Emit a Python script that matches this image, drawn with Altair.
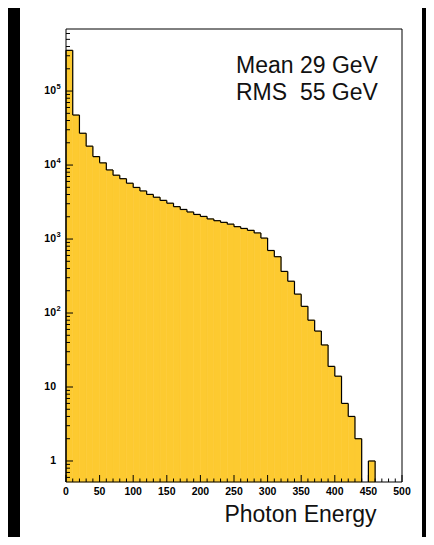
import altair as alt
import pandas as pd

# ---- data ----
bin_width = 10
bin_lo = list(range(0, 460, 10))
counts = [355000, 47400, 26900, 18000, 13000, 10700, 8590, 7290, 6540, 5680,
          4980, 4470, 4010, 3670, 3330, 3050, 2740, 2510, 2320, 2150,
          2020, 1870, 1770, 1680, 1590, 1470, 1390, 1310, 1210, 1030,
          700, 577, 365, 269, 180, 123, 80, 57, 37, 19,
          14, 6, 4, 2, 0, 1]
y_ticks_major = [1, 10, 100, 1000, 10000, 100000]
y_tick_base = ["1", "10", "10", "10", "10", "10"]
y_tick_exp = ["", "", "2", "3", "4", "5"]
x_ticks_major = [0, 50, 100, 150, 200, 250, 300, 350, 400, 450, 500]
x_tick_labels = [str(v) for v in x_ticks_major]
stats_lines = ["Mean 29 GeV", "RMS\u00a0\u00a055 GeV"]
x_title = "Photon Energy"

y_min, y_max = 0.52, 6.9e5
x_min, x_max = 0, 500

W, H = 336, 453
GOLD = "#FDCA30"
FONT = "Liberation Sans"

# ---- tables built from the arrays ----
hist = pd.DataFrame({"lo": bin_lo, "count": counts})
hist["hi"] = hist["lo"] + bin_width
hist["base"] = y_min
bars = hist[hist["count"] > 0]

tops = bars[["lo", "hi", "count"]]
edges = []
vals = [max(c, y_min) for c in counts]
prev = y_min
for i, lo in enumerate(bin_lo):
    edges.append({"e": lo, "a": prev, "b": vals[i]})
    prev = vals[i]
edges.append({"e": bin_lo[-1] + bin_width, "a": prev, "b": y_min})
edges = pd.DataFrame(edges)
edges = edges[edges["a"] != edges["b"]]

y_minor = [k * 10 ** n for n in range(-1, 6) for k in range(2, 10)
           if y_min < k * 10 ** n < y_max]
x_minor = [v for v in range(x_min + 10, x_max, 10) if v % 50 != 0]

xs = alt.Scale(domain=[x_min, x_max], nice=False, zero=False)
ys = alt.Scale(type="log", domain=[y_min, y_max], nice=False)

one = pd.DataFrame({"a": [0]})

paper = alt.Chart(one).mark_rect(color="white").encode(
    x=alt.value(-46), x2=alt.value(356), y=alt.value(-21), y2=alt.value(508)
)

bar_layer = alt.Chart(bars).mark_rect(color=GOLD, stroke=GOLD, strokeWidth=0.6).encode(
    x=alt.X("lo:Q", scale=xs, axis=None),
    x2="hi:Q",
    y=alt.Y("count:Q", scale=ys, axis=None),
    y2="base:Q",
)

top_rules = alt.Chart(tops).mark_rule(color="black", strokeWidth=1.2).encode(
    x=alt.X("lo:Q", scale=xs, axis=None), x2="hi:Q",
    y=alt.Y("count:Q", scale=ys, axis=None),
)
edge_rules = alt.Chart(edges).mark_rule(color="black", strokeWidth=1.2).encode(
    x=alt.X("e:Q", scale=xs, axis=None),
    y=alt.Y("a:Q", scale=ys, axis=None), y2="b:Q",
)

ytm = alt.Chart(pd.DataFrame({"v": y_ticks_major})).mark_rule(color="black").encode(
    y=alt.Y("v:Q", scale=ys, axis=None), x=alt.value(0), x2=alt.value(7))
ytn = alt.Chart(pd.DataFrame({"v": y_minor})).mark_rule(color="black").encode(
    y=alt.Y("v:Q", scale=ys, axis=None), x=alt.value(0), x2=alt.value(4))
xtm = alt.Chart(pd.DataFrame({"v": x_ticks_major})).mark_rule(color="black").encode(
    x=alt.X("v:Q", scale=xs, axis=None), y=alt.value(H), y2=alt.value(H - 7))
xtn = alt.Chart(pd.DataFrame({"v": x_minor})).mark_rule(color="black").encode(
    x=alt.X("v:Q", scale=xs, axis=None), y=alt.value(H), y2=alt.value(H - 3.5))

ydf = pd.DataFrame({"v": y_ticks_major, "b": y_tick_base, "e": y_tick_exp})
ylab = alt.Chart(ydf).mark_text(
    align="right", baseline="middle", font=FONT, fontWeight="bold", fontSize=10.5,
    color="black").encode(
    y=alt.Y("v:Q", scale=ys, axis=None), x=alt.value(-10), text="b:N")
yexp = alt.Chart(ydf).mark_text(
    align="left", baseline="middle", font=FONT, fontWeight="bold", fontSize=7.5,
    color="black", dy=-4).encode(
    y=alt.Y("v:Q", scale=ys, axis=None), x=alt.value(-9.5), text="e:N")
xlab = alt.Chart(pd.DataFrame({"v": x_ticks_major, "t": x_tick_labels})).mark_text(
    align="center", baseline="top", font=FONT, fontWeight="bold", fontSize=10.5,
    color="black").encode(
    x=alt.X("v:Q", scale=xs, axis=None), y=alt.value(H + 5), text="t:N")
xttl = alt.Chart(one).mark_text(
    text=x_title, align="center", baseline="alphabetic", font=FONT, fontSize=23,
    color="#111111").encode(x=alt.value(234.5), y=alt.value(H + 40))

frame = alt.Chart(one).mark_rect(fillOpacity=0, stroke="black", strokeWidth=1).encode(
    x=alt.value(0), x2=alt.value(W), y=alt.value(0), y2=alt.value(H))

stats = alt.Chart(one).mark_text(
    text=stats_lines, align="left", baseline="alphabetic", lineHeight=27,
    font=FONT, fontSize=23, color="#111111"
).encode(x=alt.value(170), y=alt.value(44))

chart = alt.layer(
    paper, bar_layer, top_rules, edge_rules, ytm, ytn, xtm, xtn, frame,
    ylab, yexp, xlab, xttl, stats
).properties(
    width=W, height=H,
    autosize=alt.AutoSizeParams(type="none"),
    padding={"left": 58, "top": 21, "right": 24, "bottom": 55},
).configure(background="black").configure_view(stroke=None)

chart.save("out.html", embed_options={"renderer": "svg", "actions": False})
